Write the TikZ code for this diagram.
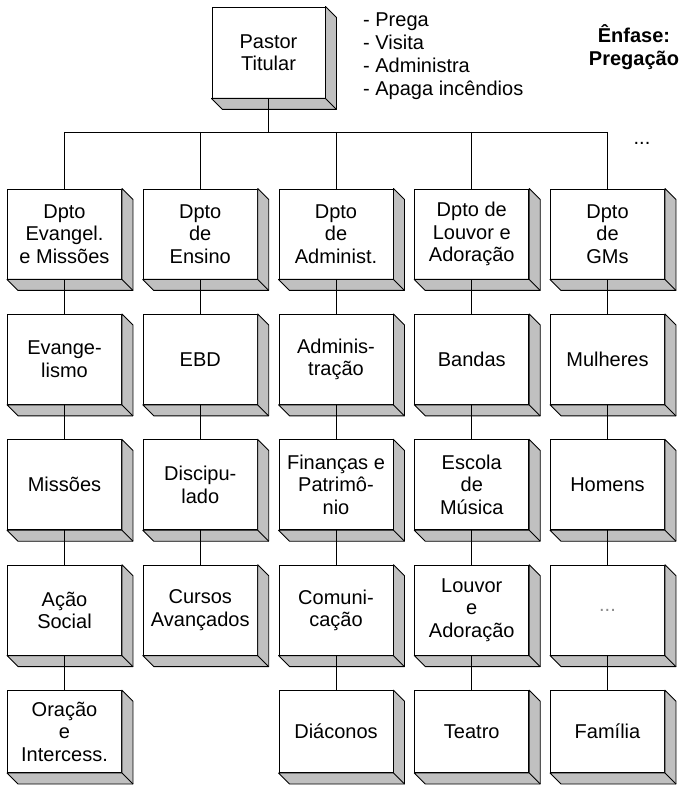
\documentclass[tikz,border=0pt]{standalone}
\usepackage{fontspec}
\setmainfont{Liberation Sans}
\definecolor{SideGray}{HTML}{C0C0C0}
\definecolor{DotGray}{HTML}{8C8C8C}
\usetikzlibrary{positioning}
\tikzset{
  % Box styles
  orgbox/.style={rectangle, draw=black, fill=white, line width=0.9pt, minimum width=114pt, minimum height=90pt, inner sep=1pt, align=center, font=\fontsize{20}{22.5}\selectfont},
  lastbox/.style={orgbox, minimum height=82pt},
  sideface/.style={draw=black, fill=SideGray, line width=0.9pt, line join=round},
  % Line styles
  link/.style={draw=black, line width=0.9pt},
  % Text styles
  freetext/.style={inner sep=0pt, font=\fontsize{20}{23}\selectfont}
}

\begin{document}
\begin{tikzpicture}[x=1pt, y=1pt, node distance=34.5pt]
  \useasboundingbox (0,0) rectangle (679,790);

  \node[orgbox, minimum width=113pt, minimum height=91pt] (pastor) at (268.5,737.5) {Pastor\\Titular};
  \node[freetext, anchor=north west, align=left] (tasks) at (363,777) {- Prega\\- Visita\\- Administra\\- Apaga incêndios};
  \node[freetext, anchor=north, align=center, font=\fontsize{20}{23}\selectfont\bfseries] (focus) at (634,766) {Ênfase:\\Pregação};
  \node[freetext] (more) at (642,647) {...};

  % Departments
  \node[orgbox] (dev) at (64.5,556) {Dpto\\Evangel.\\e Missões};
  \node[orgbox] (den) at (200.25,556) {Dpto\\de\\Ensino};
  \node[orgbox] (dad) at (336,556) {Dpto\\de\\Administ.};
  \node[orgbox] (dlo) at (471.75,556) {Dpto de\\Louvor e\\Adoração};
  \node[orgbox] (dgm) at (607.5,556) {Dpto\\de\\GMs};

  % Evangelismo e Missoes
  \node[orgbox, below=of dev] (ev1) {Evange-\\lismo};
  \node[orgbox, below=of ev1] (ev2) {Missões};
  \node[orgbox, below=of ev2] (ev3) {Ação\\Social};
  \node[lastbox, below=of ev3] (ev4) {Oração\\e\\Intercess.};

  % Ensino
  \node[orgbox, below=of den] (en1) {EBD};
  \node[orgbox, below=of en1] (en2) {Discipu-\\lado};
  \node[orgbox, below=of en2] (en3) {Cursos\\Avançados};

  % Administracao
  \node[orgbox, below=of dad] (ad1) {Adminis-\\tração};
  \node[orgbox, below=of ad1] (ad2) {Finanças e\\Patrimô-\\nio};
  \node[orgbox, below=of ad2] (ad3) {Comuni-\\cação};
  \node[lastbox, below=of ad3] (ad4) {Diáconos};

  % Louvor e Adoracao
  \node[orgbox, below=of dlo] (lo1) {Bandas};
  \node[orgbox, below=of lo1] (lo2) {Escola\\de\\Música};
  \node[orgbox, below=of lo2] (lo3) {Louvor\\e\\Adoração};
  \node[lastbox, below=of lo3] (lo4) {Teatro};

  % GMs
  \node[orgbox, below=of dgm] (gm1) {Mulheres};
  \node[orgbox, below=of gm1] (gm2) {Homens};
  \node[orgbox, below=of gm2, text=DotGray] (gm3) {...};
  \node[lastbox, below=of gm3] (gm4) {Família};

  % 3D sides
  \foreach \n in {pastor,dev,den,dad,dlo,dgm,ev1,ev2,ev3,ev4,en1,en2,en3,ad1,ad2,ad3,ad4,lo1,lo2,lo3,lo4,gm1,gm2,gm3,gm4}{
    \path[sideface] (\n.north east) -- ++(11,-11) -- ([shift={(11,-11)}]\n.south east) -- ([shift={(11,-11)}]\n.south west) -- (\n.south west) -- (\n.south east) -- cycle;
    \draw[link] (\n.south east) -- ++(11,-11);
  }

  % Tree lines
  \coordinate (bar) at (0,658);
  \draw[link] (pastor.south) -- (pastor.south |- bar);
  \draw[link] (dev.north |- bar) -- (dgm.north |- bar);
  \foreach \d in {dev,den,dad,dlo,dgm}
    \draw[link] (\d.north |- bar) -- (\d.north);

  \draw[link] (dev.south) -- (ev1.north);
  \draw[link] (ev1.south) -- (ev2.north);
  \draw[link] (ev2.south) -- (ev3.north);
  \draw[link] (ev3.south) -- (ev4.north);
  \draw[link] (den.south) -- (en1.north);
  \draw[link] (en1.south) -- (en2.north);
  \draw[link] (en2.south) -- (en3.north);
  \draw[link] (dad.south) -- (ad1.north);
  \draw[link] (ad1.south) -- (ad2.north);
  \draw[link] (ad2.south) -- (ad3.north);
  \draw[link] (ad3.south) -- (ad4.north);
  \draw[link] (dlo.south) -- (lo1.north);
  \draw[link] (lo1.south) -- (lo2.north);
  \draw[link] (lo2.south) -- (lo3.north);
  \draw[link] (lo3.south) -- (lo4.north);
  \draw[link] (dgm.south) -- (gm1.north);
  \draw[link] (gm1.south) -- (gm2.north);
  \draw[link] (gm2.south) -- (gm3.north);
  \draw[link] (gm3.south) -- (gm4.north);
\end{tikzpicture}
\end{document}
